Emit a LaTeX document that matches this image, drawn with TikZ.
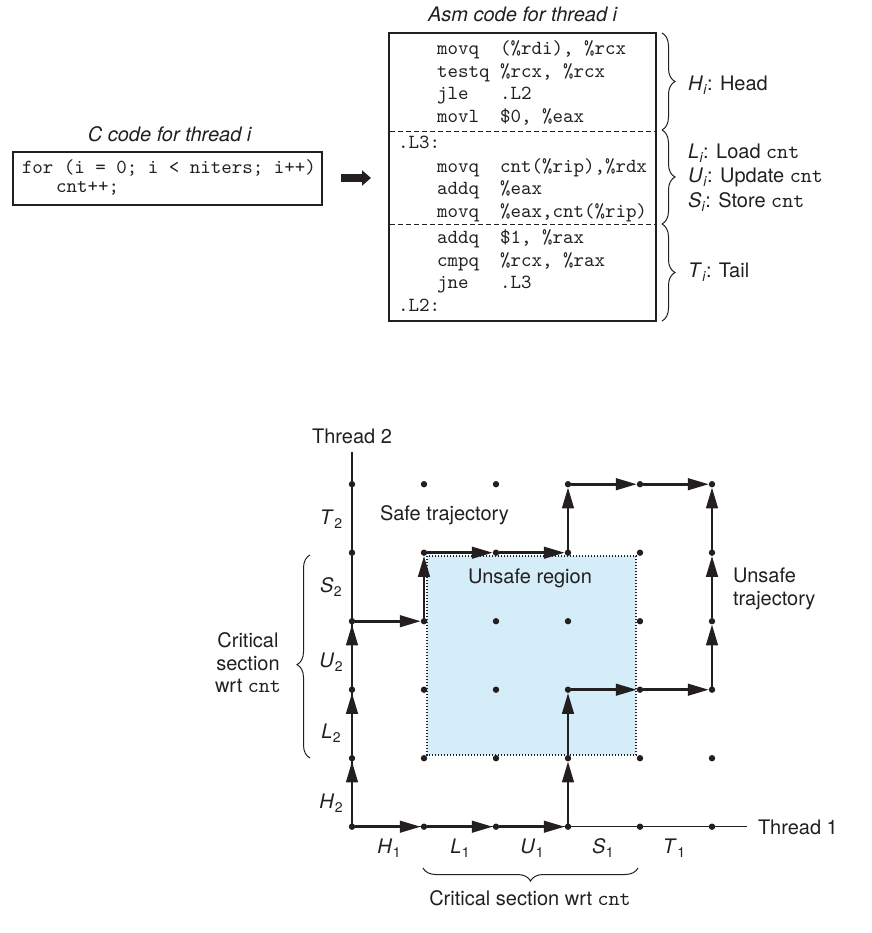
\documentclass[tikz,border=0pt]{standalone}
\usepackage{fontspec}
\setmainfont{TeX Gyre Heros}
\usetikzlibrary{arrows.meta,decorations.pathreplacing}
\definecolor{ink}{HTML}{231F20}
\definecolor{unsafefill}{HTML}{D5ECF9}
\newcommand{\sublab}[2]{\textit{#1}\kern0.02em\raisebox{-0.45ex}{\fontsize{7}{8}\selectfont #2}}
\newcommand{\instr}[2]{\makebox[31.5pt][l]{#1}#2}
\newcommand{\mcnt}{{\fontsize{10.5}{12}\selectfont\ttfamily cnt}}
\begin{document}
\begin{tikzpicture}[x=0.5pt,y=-0.5pt,
  every node/.style={inner sep=0pt, outer sep=0pt, text=ink, font=\fontsize{10}{12}\selectfont},
  txt/.style={anchor=base west},
  ctxt/.style={anchor=base},
  code/.style={anchor=base west, font=\fontsize{10}{12}\selectfont\ttfamily},
  dot/.style={circle, fill=ink, minimum size=3.2pt},
  traj/.style={draw=ink, line width=1.3pt, -{Triangle[length=10.5pt,width=5.8pt]}},
  axisline/.style={draw=ink, line width=0.6pt},
  bracedec/.style={decorate, decoration={brace, amplitude=6.5pt}, draw=ink, line width=0.5pt},
  sepline/.style={draw=ink, line width=0.5pt, dash pattern=on 2.5pt off 1.5pt},
  fatarrow/.style={draw=ink, line width=4pt, -{Triangle[length=4.5pt,width=7.5pt]}}
]
\useasboundingbox (0,0) rectangle (872,933);

% ---------- C code ----------
\node[ctxt] (ctitle) at (170,141) {\textit{C code for thread i}};
\node[draw=ink, line width=0.6pt, minimum width=154.5pt, minimum height=26.5pt] (cbox) at (167.5,178.5) {};
\node[code] (c1) at (22,173) {for (i = 0; i < niters; i++)};
\node[code] (c2) at (56,192) {cnt++;};

% ---------- fat arrow ----------
\coordinate (fa1) at (341,178);
\coordinate (fa2) at (371,178);
\draw[fatarrow] (fa1) -- (fa2);

% ---------- Asm code ----------
\node[ctxt] (atitle) at (523,21) {\textit{Asm code for thread i}};
\node[draw=ink, line width=1.2pt, minimum width=133.5pt, minimum height=144pt] (asm) at (522.5,177) {};
\coordinate (d1a) at (390,131); \coordinate (d1b) at (656,131);
\coordinate (d2a) at (390,224); \coordinate (d2b) at (656,224);
\draw[sepline] (d1a) -- (d1b);
\draw[sepline] (d2a) -- (d2b);
\node[code] (a1) at (437,54) {\instr{movq}{(\%rdi), \%rcx}};
\node[code] (a2) at (437,77) {\instr{testq}{\%rcx, \%rcx}};
\node[code] (a3) at (437,99) {\instr{jle}{.L2}};
\node[code] (a4) at (437,122) {\instr{movl}{\$0, \%eax}};
\node[code] (a5) at (398,148) {.L3:};
\node[code] (a6) at (437,172) {\instr{movq}{cnt(\%rip),\%rdx}};
\node[code] (a7) at (437,194) {\instr{addq}{\%eax}};
\node[code] (a8) at (437,217) {\instr{movq}{\%eax,cnt(\%rip)}};
\node[code] (a9) at (437,243) {\instr{addq}{\$1, \%rax}};
\node[code] (a10) at (437,266) {\instr{cmpq}{\%rcx, \%rax}};
\node[code] (a11) at (437,288) {\instr{jne}{.L3}};
\node[code] (a12) at (398,311) {.L2:};

% right braces
\coordinate (b0) at (662,33); \coordinate (b1) at (662,130);
\coordinate (b2) at (662,224); \coordinate (b3) at (662,321);
\draw[bracedec] (b0) -- (b1);
\draw[bracedec] (b1) -- (b2);
\draw[bracedec] (b2) -- (b3);
\node[txt] (lh) at (688,90) {\sublab{H}{\textit{i}}: Head};
\node[txt] (ll) at (688,158) {\sublab{L}{\textit{i}}: Load \mcnt};
\node[txt] (lu) at (688,182) {\sublab{U}{\textit{i}}: Update \mcnt};
\node[txt] (ls) at (688,207) {\sublab{S}{\textit{i}}: Store \mcnt};
\node[txt] (lt) at (688,277) {\sublab{T}{\textit{i}}: Tail};

% ---------- progress graph ----------
\foreach \i in {0,...,5} {
  \foreach \j in {0,...,5} {
    \coordinate (c\i\j) at ({352+72*\i},{826.7-68.5*\j});
  }
}
\coordinate (yend) at (352,452);
\coordinate (xend) at (747,826.7);
\draw[axisline] (c00) -- (yend);
\draw[axisline] (c00) -- (xend);

\fill[unsafefill] (427,556) rectangle (636,755);
\draw[ink, line width=0.7pt, dash pattern=on 0.7pt off 0.8pt] (427,556) rectangle (636,755);

\foreach \i in {0,...,5} {
  \foreach \j in {0,...,5} {
    \node[dot] (p\i\j) at (c\i\j) {};
  }
}

\foreach \a/\b in {00/01,01/02,02/03,03/13,13/14,14/24,24/34,34/35,35/45,45/55,
                   00/10,10/20,20/30,30/31,31/32,32/42,42/52,52/53,53/54,54/55} {
  \draw[traj] (p\a) -- (p\b);
}

% axis labels
\node[ctxt] (thr2) at (352,443) {Thread 2};
\node[txt] (thr1) at (758,834) {Thread 1};
\node[ctxt] (t2) at (331,524) {\sublab{T}{2}};
\node[ctxt] (s2) at (331,592) {\sublab{S}{2}};
\node[ctxt] (u2) at (331,667) {\sublab{U}{2}};
\node[ctxt] (l2) at (331,738) {\sublab{L}{2}};
\node[ctxt] (h2) at (331,808) {\sublab{H}{2}};
\node[ctxt] (h1) at (389,853) {\sublab{H}{1}};
\node[ctxt] (l1) at (460,853) {\sublab{L}{1}};
\node[ctxt] (u1) at (532,853) {\sublab{U}{1}};
\node[ctxt] (s1) at (603,853) {\sublab{S}{1}};
\node[ctxt] (t1) at (674,853) {\sublab{T}{1}};

\node[txt] (safe) at (380,520) {Safe trajectory};
\node[txt] (ureg) at (468,583) {Unsafe region};
\node[txt] (ut1) at (733,582) {Unsafe};
\node[txt] (ut2) at (733,605) {trajectory};

% critical section braces
\coordinate (lb1) at (310,758); \coordinate (lb2) at (310,555);
\draw[bracedec, decoration={brace, amplitude=6.5pt, aspect=0.46}] (lb1) -- (lb2);
\node[ctxt] (cs1) at (248,647) {Critical};
\node[ctxt] (cs2) at (248,670) {section};
\node[ctxt] (cs3) at (248,692) {wrt \mcnt};

\coordinate (bb1) at (638,868); \coordinate (bb2) at (423,868);
\draw[bracedec] (bb1) -- (bb2);
\node[ctxt] (csb) at (530,905) {Critical section wrt \mcnt};
\end{tikzpicture}
\end{document}
